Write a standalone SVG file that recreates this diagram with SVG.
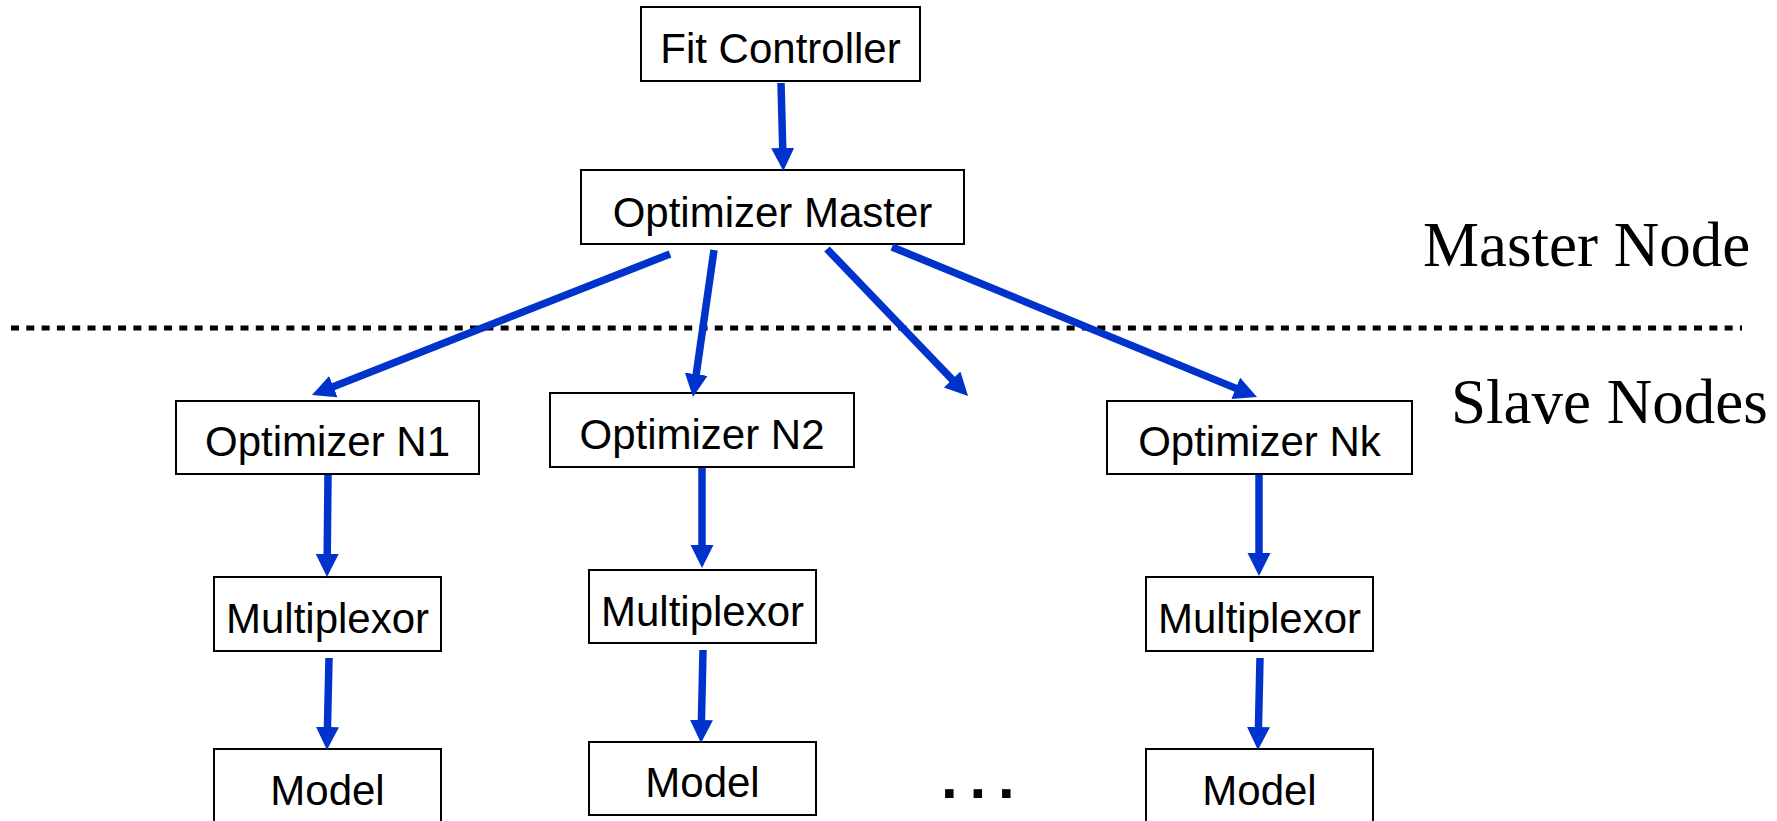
<svg xmlns="http://www.w3.org/2000/svg" width="1777" height="821" viewBox="0 0 1777 821">
<style>
.box{fill:#fff;stroke:#000;stroke-width:2}
.lbl{font-family:"Liberation Sans",Arial,Helvetica,sans-serif;font-size:42px;fill:#000;text-anchor:middle}
.side{font-family:"Liberation Serif","Times New Roman",serif;font-size:63px;fill:#000}
.arr{stroke:#0033cc;stroke-width:7.5;fill:none;marker-end:url(#ah)}
.sep{stroke:#000;stroke-width:5;stroke-dasharray:8 7.3;fill:none}
</style>
<defs>
<marker id="ah" markerUnits="userSpaceOnUse" markerWidth="24" markerHeight="24" refX="3" refY="11.5" orient="auto" viewBox="0 0 24 24">
<path d="M0,0 L23,11.5 L0,23 z" fill="#0033cc"/>
</marker>
</defs>
<rect width="1777" height="821" fill="#fff"/>
<line id="separator" class="sep" x1="11" y1="328" x2="1742" y2="328"/>
<g id="fit-controller"><rect class="box" x="641" y="7" width="279" height="74"/><text class="lbl" x="780.5" y="63">Fit Controller</text></g>
<g id="optimizer-master"><rect class="box" x="581" y="170" width="383" height="74"/><text class="lbl" x="772.5" y="227">Optimizer Master</text></g>
<g id="optimizer-n1"><rect class="box" x="176" y="401" width="303" height="73"/><text class="lbl" x="327.5" y="456">Optimizer N1</text></g>
<g id="optimizer-n2"><rect class="box" x="550" y="393" width="304" height="74"/><text class="lbl" x="702" y="449">Optimizer N2</text></g>
<g id="optimizer-nk"><rect class="box" x="1107" y="401" width="305" height="73"/><text class="lbl" x="1259.5" y="456">Optimizer Nk</text></g>
<g id="multiplexor-1"><rect class="box" x="214" y="577" width="227" height="74"/><text class="lbl" x="327.5" y="633">Multiplexor</text></g>
<g id="multiplexor-2"><rect class="box" x="589" y="570" width="227" height="73"/><text class="lbl" x="702.5" y="626">Multiplexor</text></g>
<g id="multiplexor-k"><rect class="box" x="1146" y="577" width="227" height="74"/><text class="lbl" x="1259.5" y="633">Multiplexor</text></g>
<g id="model-1"><rect class="box" x="214" y="749" width="227" height="76"/><text class="lbl" x="327.5" y="805">Model</text></g>
<g id="model-2"><rect class="box" x="589" y="742" width="227" height="73"/><text class="lbl" x="702.5" y="797">Model</text></g>
<g id="model-k"><rect class="box" x="1146" y="749" width="227" height="76"/><text class="lbl" x="1259.5" y="805">Model</text></g>
<g id="ellipsis"><text x="941" y="798" font-family="'Liberation Sans',Arial,sans-serif" font-weight="bold" font-size="60" letter-spacing="11.8">...</text></g>
<g id="master-node-label"><text class="side" x="1423" y="266">Master Node</text></g>
<g id="slave-nodes-label"><text class="side" x="1451" y="423">Slave Nodes</text></g>
<g id="connectors">
<line class="arr" x1="781" y1="83" x2="782.8" y2="151"/>
<line class="arr" x1="670" y1="254" x2="330.6" y2="387.7"/>
<line class="arr" x1="714" y1="250" x2="695.8" y2="377.2"/>
<line class="arr" x1="827" y1="249" x2="954.2" y2="381.6"/>
<line class="arr" x1="892" y1="247" x2="1238.5" y2="389.4"/>
<line class="arr" x1="328" y1="475" x2="327.2" y2="557"/>
<line class="arr" x1="329" y1="658" x2="327.4" y2="730"/>
<line class="arr" x1="702" y1="468" x2="702" y2="548"/>
<line class="arr" x1="703" y1="650" x2="701.4" y2="723"/>
<line class="arr" x1="1259" y1="475" x2="1259" y2="556"/>
<line class="arr" x1="1260" y1="658" x2="1258.4" y2="730"/>
</g>
</svg>
